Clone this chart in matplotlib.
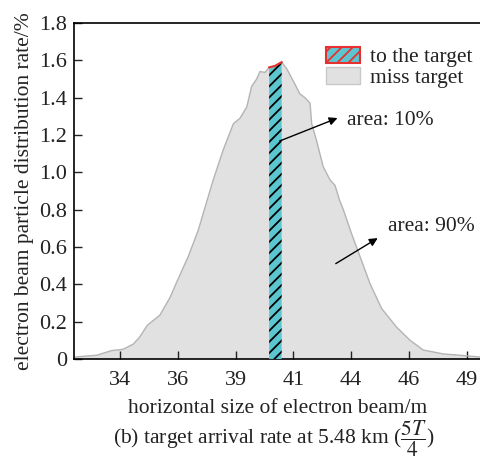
import matplotlib
matplotlib.use("Agg")
import matplotlib.pyplot as plt
import matplotlib.patches as mpatches
import numpy as np

# Beam profile (horizontal position in m, distribution rate in %)
beam_x = [32.0, 32.98, 33.63, 34.13, 34.57, 34.86, 35.17, 35.72, 36.16, 36.44,
          36.95, 37.38, 37.74, 38.03, 38.46, 38.9, 39.19, 39.48, 39.69, 39.91,
          40.05, 40.27, 40.45, 40.7, 40.99, 41.2, 41.49, 41.78, 42.0, 42.22,
          42.29, 42.5, 42.79, 43.08, 43.3, 43.5, 43.66, 44.02, 44.38, 44.81,
          45.32, 45.97, 46.55, 47.12, 47.99, 48.7, 49.62]
beam_y = [0.01, 0.02, 0.045, 0.052, 0.08, 0.12, 0.18, 0.235, 0.33, 0.41,
          0.55, 0.69, 0.84, 0.96, 1.12, 1.26, 1.29, 1.35, 1.46, 1.50,
          1.54, 1.535, 1.562, 1.57, 1.59, 1.557, 1.49, 1.42, 1.40, 1.37,
          1.26, 1.17, 1.03, 0.96, 0.93, 0.85, 0.80, 0.67, 0.55, 0.405,
          0.27, 0.17, 0.10, 0.048, 0.027, 0.02, 0.01]

# window that reaches the target
target_lo, target_hi = 40.45, 40.99

xtick_pos = [34, 36.5, 39, 41.5, 44, 46.5, 49]
xtick_labels = ['34', '36', '39', '41', '44', '46', '49']
ytick_pos = [0, 0.2, 0.4, 0.6, 0.8, 1.0, 1.2, 1.4, 1.6, 1.8]
ytick_labels = ['0', '0.2', '0.4', '0.6', '0.8', '1.0', '1.2', '1.4', '1.6', '1.8']

plt.rcParams['font.family'] = 'Liberation Serif'
plt.rcParams['mathtext.fontset'] = 'stix'
plt.rcParams['hatch.linewidth'] = 1.3

fs = 15.5

fig = plt.figure(figsize=(4.81, 4.61), dpi=100)
ax = fig.add_axes([0.1538, 0.2213, 0.8462, 0.7289])

bx = np.array(beam_x)
by = np.array(beam_y)

miss_color = '#e1e1e1'
hit_color = '#5bc6cf'

ax.fill_between(bx, 0, by, facecolor=miss_color, edgecolor='none', zorder=1)
ax.plot(bx, by, color='#b4b4b4', lw=1.0, zorder=2)

sel = (bx >= target_lo) & (bx <= target_hi)
ax.fill_between(bx[sel], 0, by[sel], facecolor=hit_color, edgecolor='black',
                hatch='///', linewidth=0, zorder=3)
ax.plot(bx[sel], by[sel], color='#e83030', lw=1.5, zorder=4)

ax.annotate('', xy=(43.52, 1.296), xytext=(40.79, 1.162),
            arrowprops=dict(arrowstyle='-|>', color='black', lw=1.0,
                            mutation_scale=12), zorder=5)
ax.text(43.82, 1.28, 'area: 10%', fontsize=fs, va='center', ha='left', color='#222222')
ax.annotate('', xy=(45.25, 0.655), xytext=(43.23, 0.503),
            arrowprops=dict(arrowstyle='-|>', color='black', lw=1.0,
                            mutation_scale=12), zorder=5)
ax.text(45.6, 0.71, 'area: 90%', fontsize=fs, va='center', ha='left', color='#222222')

ax.set_xlim(32, 49.62)
ax.set_ylim(0, 1.8)
ax.set_xticks(xtick_pos)
ax.set_xticklabels(xtick_labels)
ax.set_yticks(ytick_pos)
ax.set_yticklabels(ytick_labels)
ax.tick_params(direction='in', length=6, width=1, labelsize=fs + 0.5, colors='#222222')
ax.tick_params(axis='x', pad=9)
ax.tick_params(axis='y', pad=5)
ax.spines['right'].set_visible(False)
for s in ['left', 'bottom', 'top']:
    ax.spines[s].set_linewidth(1.2)

ax.set_xlabel('horizontal size of electron beam/m', fontsize=fs, labelpad=6,
              color='#222222')
ax.set_ylabel('electron beam particle distribution rate/%', fontsize=fs, labelpad=4,
              color='#222222')

hit_patch = mpatches.Patch(facecolor=hit_color, edgecolor='#e83030', hatch='///',
                           linewidth=1.5, label='to the target')
miss_patch = mpatches.Patch(facecolor=miss_color, edgecolor='#c8c8c8',
                            linewidth=1.0, label='miss target')
ax.legend(handles=[hit_patch, miss_patch], loc='upper right', fontsize=fs,
          frameon=False, handlelength=1.58, handleheight=0.8, handletextpad=0.45,
          labelspacing=0.0, borderaxespad=0.0, bbox_to_anchor=(1.0, 0.955),
          labelcolor='#222222')

fig.text(0.57, 0.048, r'(b) target arrival rate at 5.48 km ($\dfrac{5T}{4}$)',
         fontsize=fs, ha='center', va='center', color='#222222')

fig.savefig('out.png', dpi=100)
